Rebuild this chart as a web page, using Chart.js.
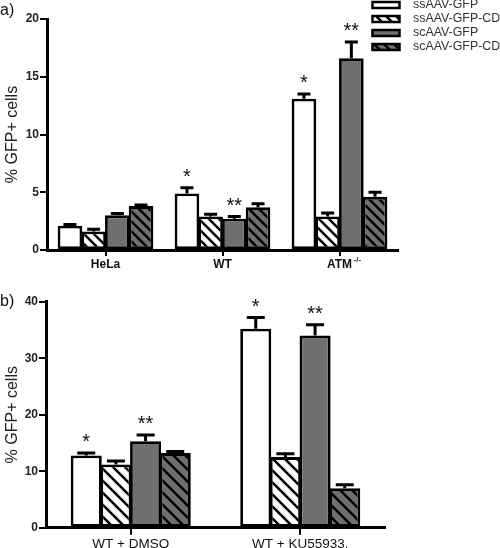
<!DOCTYPE html>
<html><head><meta charset="utf-8">
<script src="https://cdn.jsdelivr.net/npm/chart.js@4.4.0/dist/chart.umd.min.js"></script>
<style>
html,body{margin:0;padding:0;background:#fff;width:500px;height:548px;overflow:hidden;}
#wa{position:absolute;left:0;top:0;width:500px;height:270px;}
#wb{position:absolute;left:0;top:270px;width:500px;height:278px;}
</style></head><body>
<div id="wa"><canvas id="ca"></canvas></div>
<div id="wb"><canvas id="cb"></canvas></div>
<script>
// ---------- data ----------
const seriesNames = ['ssAAV-GFP', 'ssAAV-GFP-CD', 'scAAV-GFP', 'scAAV-GFP-CD'];

const categoriesA = ['HeLa', 'WT', 'ATM'];
const superscriptsA = ['', '', '-/-'];
const ssGfpA   = [2.1, 4.9, 13.1];
const ssGfpCdA = [1.6, 2.9, 2.9];
const scGfpA   = [3.0, 2.7, 16.6];
const scGfpCdA = [3.8, 3.7, 4.6];
const ssGfpErrA   = [0.1, 0.5, 0.4];
const ssGfpCdErrA = [0.2, 0.2, 0.3];
const scGfpErrA   = [0.15, 0.2, 1.4];
const scGfpCdErrA = [0.1, 0.3, 0.4];
const ssGfpSigA = ['', '*', '*'];
const scGfpSigA = ['', '**', '**'];
const yTicksA = [0, 5, 10, 15, 20];

const categoriesB = ['WT + DMSO', 'WT + KU55933.'];
const ssGfpB   = [12.8, 35.2];
const ssGfpCdB = [11.2, 12.5];
const scGfpB   = [15.3, 34.0];
const scGfpCdB = [13.2, 7.0];
const ssGfpErrB   = [0.4, 2.0];
const ssGfpCdErrB = [0.6, 0.6];
const scGfpErrB   = [1.1, 1.9];
const scGfpCdErrB = [0.3, 0.6];
const ssGfpSigB = ['*', '*'];
const scGfpSigB = ['**', '**'];
const yTicksB = [0, 10, 20, 30, 40];

const yTitle = '% GFP+ cells';

// ---------- styles ----------
const FONT = '"Liberation Sans", Arial, sans-serif';
const GREY = '#6f6f6f';
const BW = 2.8;

function hatch(bg, size, lw) {
  const c = document.createElement('canvas');
  c.width = c.height = size;
  const x = c.getContext('2d');
  x.fillStyle = bg; x.fillRect(0, 0, size, size);
  x.strokeStyle = '#000'; x.lineWidth = lw;
  x.beginPath();
  for (let k = -2; k <= 2; k++) {
    x.moveTo(k * size - size, -size);
    x.lineTo(k * size + 2 * size, 2 * size);
  }
  x.stroke();
  return x.createPattern(c, 'repeat');
}

function makeDatasets(vals, errs, sigs, tile, lw) {
  const fills = ['#ffffff', hatch('#ffffff', tile, lw), GREY, hatch(GREY, tile, lw)];
  return vals.map((v, i) => ({
    label: seriesNames[i],
    data: v,
    errors: errs[i],
    sig: sigs[i],
    backgroundColor: fills[i],
    borderColor: '#000',
    borderWidth: BW,
    borderSkipped: false,
    inflateAmount: 0
  }));
}

function overlayPlugin(opts) {
  return {
    id: 'overlay' + opts.name,
    afterDatasetsDraw(chart) {
      const ctx = chart.ctx;
      const ys = chart.scales.y;
      ctx.save();
      chart.data.datasets.forEach((ds, i) => {
        const meta = chart.getDatasetMeta(i);
        meta.data.forEach((bar, j) => {
          const v = ds.data[j], e = ds.errors[j];
          const y0 = ys.getPixelForValue(v);
          const y1 = ys.getPixelForValue(v + e);
          ctx.strokeStyle = '#000';
          ctx.lineWidth = 3;
          ctx.beginPath();
          ctx.moveTo(bar.x, y0);
          ctx.lineTo(bar.x, y1);
          ctx.moveTo(bar.x - opts.cap / 2, y1);
          ctx.lineTo(bar.x + opts.cap / 2, y1);
          ctx.stroke();
          const s = ds.sig && ds.sig[j];
          if (s) {
            ctx.font = '20px ' + FONT;
            ctx.fillStyle = '#111';
            ctx.textAlign = 'center';
            ctx.textBaseline = 'alphabetic';
            const m = ctx.measureText(s);
            const cy = y1 - 15;
            const base = cy + (m.actualBoundingBoxAscent - m.actualBoundingBoxDescent) / 2;
            ctx.fillText(s, bar.x, base);
          }
        });
      });
      ctx.restore();
    },
    afterDraw(chart) {
      const ctx = chart.ctx;
      ctx.save();
      ctx.font = '16px ' + FONT;
      ctx.fillStyle = '#111';
      ctx.textAlign = 'left';
      ctx.textBaseline = 'middle';
      ctx.fillText(opts.letter, 0, opts.letterY);
      if (opts.sup) {
        const xs = chart.scales.x;
        ctx.font = opts.xFont;
        opts.sup.forEach((s, i) => {
          if (!s) return;
          const w = ctx.measureText(chart.data.labels[i]).width;
          const x = xs.getPixelForTick(i) + w / 2 + 1.5;
          ctx.save();
          ctx.font = 'bold 8px ' + FONT;
          ctx.fillStyle = '#222';
          ctx.textAlign = 'left';
          ctx.textBaseline = 'top';
          ctx.fillText(s, x, chart.chartArea.bottom + 6);
          ctx.restore();
        });
      }
      if (opts.legend) {
        chart.data.datasets.forEach((ds, i) => {
          const cy = 5 + i * 14;
          const bx = 372.5, bw = 27, bh = 6;
          ctx.fillStyle = ds.backgroundColor;
          ctx.fillRect(bx, cy - bh / 2, bw, bh);
          ctx.strokeStyle = '#000';
          ctx.lineWidth = 2.5;
          ctx.strokeRect(bx, cy - bh / 2, bw, bh);
          ctx.font = '12.4px ' + FONT;
          ctx.fillStyle = '#333';
          ctx.textAlign = 'left';
          ctx.textBaseline = 'middle';
          ctx.fillText(ds.label, 413, cy);
        });
      }
      ctx.restore();
    }
  };
}

function buildChart(canvasId, cfg) {
  return new Chart(document.getElementById(canvasId), {
    type: 'bar',
    data: {labels: cfg.labels, datasets: cfg.datasets},
    options: {
      responsive: true,
      maintainAspectRatio: false,
      animation: false,
      layout: {padding: {left: 0, top: cfg.top, right: cfg.right, bottom: 0}},
      plugins: {legend: {display: false}, tooltip: {enabled: false}},
      datasets: {bar: {categoryPercentage: cfg.catPct, barPercentage: cfg.barPct}},
      scales: {
        x: {
          grid: {offset: false, drawOnChartArea: false, tickLength: cfg.xTick, color: '#000', lineWidth: 2},
          border: {color: '#000', width: 3},
          ticks: {color: '#111', font: cfg.xFontObj, padding: 1, maxRotation: 0, autoSkip: false},
          afterFit(s) { s.height = cfg.xHeight; }
        },
        y: {
          min: 0, max: cfg.yTicks[cfg.yTicks.length - 1],
          afterBuildTicks(s) { s.ticks = cfg.yTicks.map(v => ({value: v})); },
          grid: {drawOnChartArea: false, tickLength: 7, color: '#000', lineWidth: 2},
          border: {color: '#000', width: 3},
          ticks: {color: '#222', font: {family: FONT, size: 12, weight: 'bold'}, padding: 1},
          title: {display: true, text: yTitle, color: '#222', font: {family: FONT, size: 16}, padding: {top: 3, bottom: 0}},
          afterFit(s) { s.width = cfg.yWidth; }
        }
      }
    },
    plugins: [cfg.plugin]
  });
}

const xFontA = {family: FONT, size: 12, weight: 'bold'};
const xFontB = {family: FONT, size: 13.5};

// bar widths: slot = category*catPct/4 ; overlap each neighbour by one border width
const slotA = (351 * 0.81) / 4;
const slotB = (339 * 0.70) / 4;

buildChart('ca', {
  labels: categoriesA,
  datasets: makeDatasets([ssGfpA, ssGfpCdA, scGfpA, scGfpCdA],
                         [ssGfpErrA, ssGfpCdErrA, scGfpErrA, scGfpCdErrA],
                         [ssGfpSigA, [], scGfpSigA, []], 10, 2.5),
  yTicks: yTicksA, top: 19, right: 102, xHeight: 20, yWidth: 47, catPct: 0.81,
  barPct: (slotA + BW) / slotA, xTick: 6,
  xFontObj: xFontA,
  plugin: overlayPlugin({name: 'A', cap: 13, letter: 'a)', letterY: 11, legend: true,
                         sup: superscriptsA, xFont: 'bold 12px ' + FONT})
});

buildChart('cb', {
  labels: categoriesB,
  datasets: makeDatasets([ssGfpB, ssGfpCdB, scGfpB, scGfpCdB],
                         [ssGfpErrB, ssGfpCdErrB, scGfpErrB, scGfpCdErrB],
                         [ssGfpSigB, [], scGfpSigB, []], 12, 2.5),
  yTicks: yTicksB, top: 31.7, right: 115, xHeight: 20.3, yWidth: 46, catPct: 0.70,
  barPct: (slotB + BW) / slotB, xTick: 7,
  xFontObj: xFontB,
  plugin: overlayPlugin({name: 'B', cap: 18, letter: 'b)', letterY: 32, legend: false})
});
</script>
</body></html>
